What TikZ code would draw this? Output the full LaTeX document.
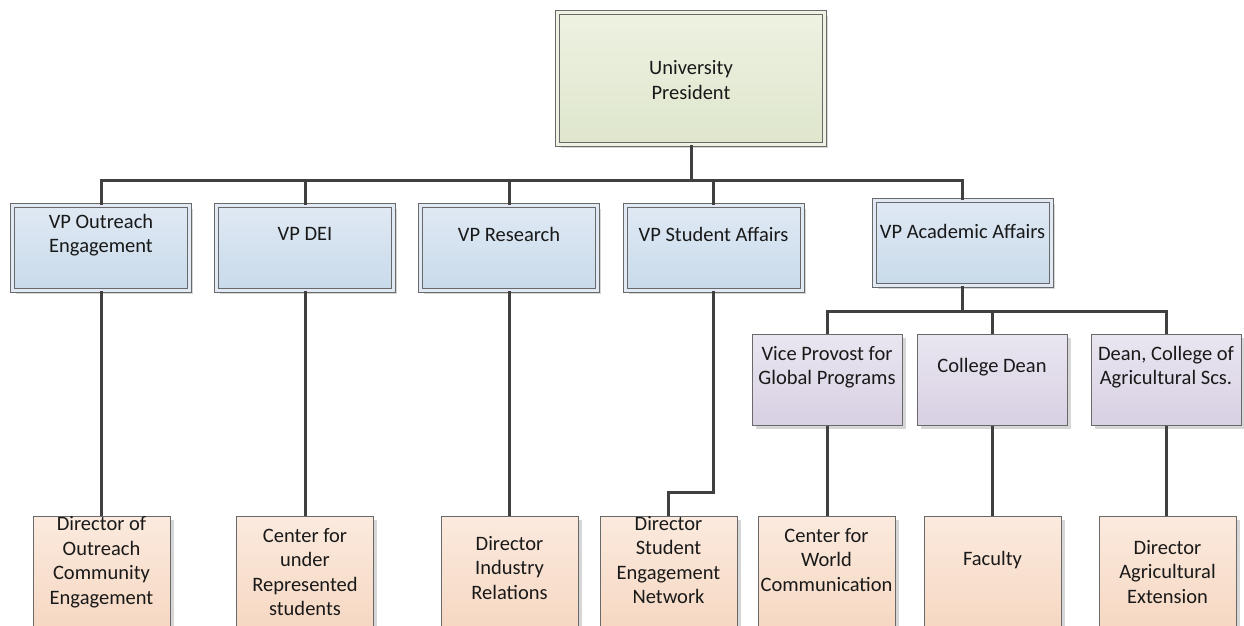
\documentclass[tikz,border=0pt]{standalone}
\usepackage{fontspec}
\setmainfont{Carlito}
\usetikzlibrary{shadows}
\definecolor{greentop}{RGB}{238,242,226}
\definecolor{greenbot}{RGB}{222,230,204}
\definecolor{bluetop}{RGB}{224,233,244}
\definecolor{bluebot}{RGB}{200,218,234}
\definecolor{lilactop}{RGB}{234,230,240}
\definecolor{lilacbot}{RGB}{216,208,227}
\definecolor{peachtop}{RGB}{251,234,222}
\definecolor{peachbot}{RGB}{245,212,189}
\definecolor{linegray}{RGB}{64,64,64}
\definecolor{rimgray}{RGB}{105,105,105}
\begin{document}
\begin{tikzpicture}[x=1pt,y=-1pt,
		conn/.style={line width=3pt,color=linegray},
		shade/.style={drop shadow={shadow xshift=3.5pt,shadow yshift=-3.5pt,fill=black!16,opacity=1}},
		presbox/.style={draw=rimgray,line width=1pt,double=greentop,double distance=3pt,top color=greentop,bottom color=greenbot,minimum width=267pt,minimum height=132pt,shade},
		vpbox/.style={draw=rimgray,line width=1pt,double=bluetop,double distance=3pt,top color=bluetop,bottom color=bluebot,minimum width=177pt,minimum height=85pt,shade},
		provbox/.style={draw=rimgray,line width=1pt,top color=lilactop,bottom color=lilacbot,minimum width=150pt,minimum height=91pt,shade},
		dirbox/.style={draw=rimgray,line width=1pt,top color=peachtop,bottom color=peachbot,minimum width=137pt,minimum height=134pt,shade},
		txt/.style={align=center,inner sep=0pt,text=black!90,font=\fontsize{20.5pt}{24.5pt}\selectfont}]
	\useasboundingbox (0,0) rectangle (1244,626);
	\clip (0,0) rectangle (1244,626);
	\fill[white] (0,0) rectangle (1244,626);
	
	% president and vice presidents
	\node[presbox] (pres) at (691,78.5) {};
	\node[txt] (pres-t) at (691,80) {University\\President};
	
	\node[vpbox] (vpout) at (101,248) {};
	\node[vpbox] (vpdei) at (305,248) {};
	\node[vpbox] (vpres) at (509,248) {};
	\node[vpbox] (vpsa) at (713.5,248) {};
	\node[vpbox] (vpaca) at (962.5,243) {};
	\node[txt] (vpout-t) at (101,235) {VP Outreach\\Engagement};
	\node[txt] (vpdei-t) at (305,234) {VP DEI};
	\node[txt] (vpres-t) at (509,234) {VP Research};
	\node[txt] (vpsa-t) at (713.5,234) {VP Student Affairs};
	\node[txt] (vpaca-t) at (962.5,231) {VP Academic Affairs};
	
	% under academic affairs
	\node[provbox] (vpglob) at (827,379.5) {};
	\node[provbox] (cdean) at (992,379.5) {};
	\node[provbox] (agdean) at (1166,379.5) {};
	\node[txt] (vpglob-t) at (827,367) {Vice Provost for\\Global Programs};
	\node[txt] (cdean-t) at (992,367) {College Dean};
	\node[txt] (agdean-t) at (1166,367) {Dean, College of\\Agricultural Scs.};
	
	% directors
	\node[dirbox] (dout) at (101.5,583) {};
	\node[dirbox] (dunder) at (305,583) {};
	\node[dirbox] (dind) at (509.5,583) {};
	\node[dirbox] (dsen) at (668.5,583) {};
	\node[dirbox] (dworld) at (826.5,583) {};
	\node[dirbox] (dfac) at (992.5,583) {};
	\node[dirbox] (dagext) at (1167.5,583) {};
	\node[txt] (dout-t) at (101.5,562) {Director of\\Outreach\\Community\\Engagement};
	\node[txt] (dunder-t) at (305,572) {Center for\\under\\Represented\\students};
	\node[txt] (dind-t) at (509.5,568) {Director\\Industry\\Relations};
	\node[txt] (dsen-t) at (668.5,560) {Director\\Student\\Engagement\\Network};
	\node[txt] (dworld-t) at (826.5,560) {Center for\\World\\Communication};
	\node[txt] (dfac-t) at (992.5,560) {Faculty};
	\node[txt] (dagext-t) at (1167.5,572) {Director\\Agricultural\\Extension};
	
	% connectors
	\coordinate (bus) at (pres.south |- 0,180);
	\draw[conn] (pres.south) -- (bus) -| (vpout.north);
	\draw[conn] (bus) -| (vpdei.north);
	\draw[conn] (bus) -| (vpres.north);
	\draw[conn] (bus) -| (vpsa.north);
	\draw[conn] (bus) -| (vpaca.north);
	
	\coordinate (subbus) at (vpaca.south |- 0,311);
	\draw[conn] (vpaca.south) -- (subbus) -| (vpglob.north);
	\draw[conn] (subbus) -| (cdean.north);
	\draw[conn] (subbus) -| (agdean.north);
	
	\draw[conn] (vpout.south) -- (vpout.south |- dout.north);
	\draw[conn] (vpdei.south) -- (vpdei.south |- dunder.north);
	\draw[conn] (vpres.south) -- (vpres.south |- dind.north);
	\draw[conn] (vpsa.south) |- (dsen.north |- 0,492) -- (dsen.north);
	\draw[conn] (vpglob.south) -- (vpglob.south |- dworld.north);
	\draw[conn] (cdean.south) -- (cdean.south |- dfac.north);
	\draw[conn] (agdean.south) -- (agdean.south |- dagext.north);
\end{tikzpicture}
\end{document}
